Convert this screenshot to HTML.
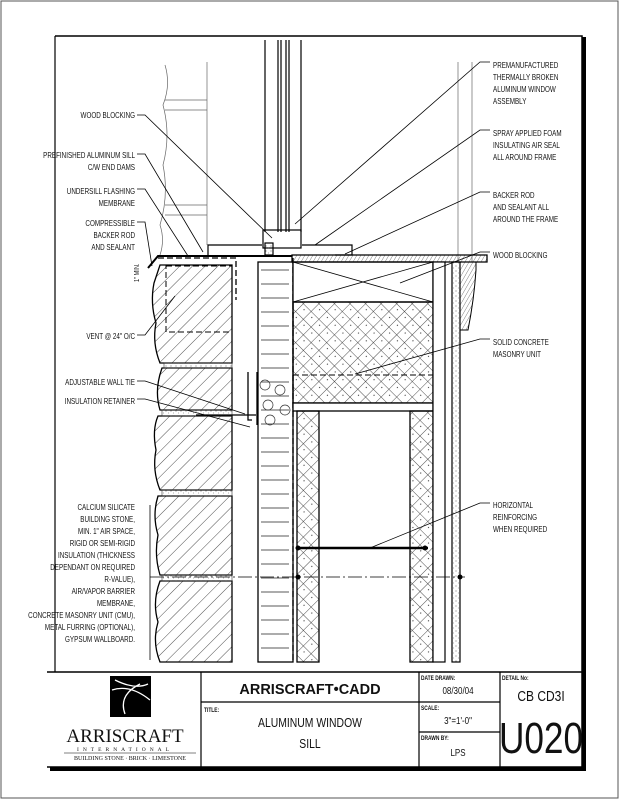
<!DOCTYPE html>
<html><head><meta charset="utf-8"><style>
html,body{margin:0;padding:0;background:#fff}
svg{display:block}
text{font-family:"Liberation Sans",sans-serif;font-size:8.5px;fill:#111}
</style></head><body>
<svg width="619" height="800" viewBox="0 0 619 800" xmlns="http://www.w3.org/2000/svg">
<defs>
<pattern id="diag" width="9" height="9" patternUnits="userSpaceOnUse" patternTransform="rotate(45)">
<line x1="0" y1="0" x2="0" y2="9" stroke="#222" stroke-width="0.8"/></pattern>
<pattern id="cross" width="11" height="11" patternUnits="userSpaceOnUse" patternTransform="rotate(45)">
<line x1="0" y1="0" x2="0" y2="11" stroke="#222" stroke-width="0.8"/><line x1="0" y1="0" x2="11" y2="0" stroke="#222" stroke-width="0.8"/>
<circle cx="5" cy="4" r="0.6" fill="#333"/></pattern>
<pattern id="stip" width="5" height="5" patternUnits="userSpaceOnUse">
<circle cx="1" cy="1" r="0.5" fill="#444"/><circle cx="3.5" cy="3" r="0.4" fill="#444"/></pattern>
<pattern id="ins" width="34" height="14" patternUnits="userSpaceOnUse" x="258" y="265">
<line x1="3" y1="5" x2="31" y2="5" stroke="#222" stroke-width="0.8"/></pattern>
<pattern id="wood" width="4" height="8" patternUnits="userSpaceOnUse" patternTransform="skewX(-30)">
<line x1="0" y1="0" x2="0" y2="8" stroke="#333" stroke-width="0.7"/></pattern>
</defs>
<rect x="1" y="1" width="617" height="797" fill="none" stroke="#555" stroke-width="1"/>
<path d="M55 36 H582 V767 H47" fill="none" stroke="#000" stroke-width="1.5"/>
<line x1="55" y1="36" x2="55" y2="672" stroke="#000" stroke-width="1.2"/>
<rect x="582" y="37" width="4" height="734" fill="#000"/>
<rect x="50" y="767" width="536" height="4" fill="#000"/>

<g stroke="#666" stroke-width="0.7" fill="none">
<line x1="207" y1="62" x2="207" y2="245"/>
<path d="M165 65 q6 20 -2 40 q8 30 0 60 q6 30 -3 60 q5 15 0 30"/>
<line x1="165" y1="100" x2="207" y2="100"/><line x1="165" y1="110" x2="207" y2="110"/>
<line x1="165" y1="205" x2="207" y2="205"/><line x1="165" y1="215" x2="207" y2="215"/>
<line x1="458" y1="62" x2="458" y2="262"/><line x1="472" y1="62" x2="472" y2="262"/>
</g>
<g stroke="#000" stroke-width="1.2" fill="none">
<line x1="265" y1="40" x2="265" y2="232"/><line x1="301" y1="40" x2="301" y2="232"/>
<line x1="278" y1="40" x2="278" y2="232"/><line x1="281" y1="40" x2="281" y2="232"/>
<line x1="286" y1="40" x2="286" y2="232"/><line x1="289" y1="40" x2="289" y2="232"/>
<rect x="263" y="230" width="38" height="18"/>
<path d="M208 255 V245 H262 M302 245 H352 V255 H335"/>
<rect x="265" y="243" width="8" height="12" fill="url(#stip)"/>
</g>
<path d="M148 268 L158 256 H292" fill="none" stroke="#000" stroke-width="2"/>
<path d="M158 258 H236 V300" fill="none" stroke="#000" stroke-width="1.3" stroke-dasharray="6 3"/>

<g stroke="#000" stroke-width="1.3">
<path d="M160 265 H232 V363 H160 q-8 -20 -4 -40 q-6 -20 -2 -40 z" fill="url(#diag)"/>
<path d="M162 368 H232 V410 H160 q-6 -20 2 -42 z" fill="url(#diag)"/>
<path d="M158 416 H232 V490 H160 q-8 -20 -4 -40 q-4 -20 2 -34 z" fill="url(#diag)"/>
<path d="M158 496 H232 V575 H160 q-6 -20 -2 -40 q-6 -20 0 -39 z" fill="url(#diag)"/>
<path d="M160 581 H232 V662 H160 q-8 -20 -2 -40 q-6 -20 2 -41 z" fill="url(#diag)"/>
</g>
<g fill="url(#stip)" stroke="#333" stroke-width="0.6">
<rect x="164" y="363" width="68" height="5"/><rect x="162" y="410" width="70" height="6"/>
<rect x="162" y="490" width="70" height="6"/><rect x="162" y="575" width="70" height="6"/>
</g>
<rect x="166" y="266" width="66" height="66" fill="none" stroke="#000" stroke-dasharray="6 3"/>

<rect x="258" y="262" width="35" height="400" fill="url(#ins)" stroke="#000" stroke-width="1.3"/>
<line x1="293" y1="258" x2="293" y2="662" stroke="#000" stroke-width="1.3" stroke-dasharray="6 3"/>
<g fill="none" stroke="#333" stroke-width="0.7">
<circle cx="265" cy="385" r="5"/><circle cx="280" cy="390" r="5"/><circle cx="268" cy="405" r="5"/><circle cx="285" cy="410" r="5"/><circle cx="270" cy="420" r="5"/>
</g>
<path d="M257 372 V425 M248 372 V420 H252" fill="none" stroke="#000" stroke-width="1.3"/>
<path d="M196 415 H256" stroke="#000" stroke-width="1.3"/>

<rect x="293" y="262" width="140" height="40" fill="#fff" stroke="#000" stroke-width="1.3"/>
<path d="M293 262 L433 302 M293 302 L433 262" stroke="#000" stroke-width="0.8"/>
<path d="M292 255 H487 V262 H292 z" fill="url(#wood)" stroke="#000" stroke-width="1.3"/>
<rect x="293" y="302" width="140" height="101" fill="url(#cross)" stroke="#000" stroke-width="1.3"/>
<line x1="293" y1="375" x2="433" y2="375" stroke="#000" stroke-dasharray="6 3"/>
<rect x="293" y="403" width="140" height="8" fill="#fff" stroke="#000" stroke-width="1.3"/>
<rect x="297" y="411" width="22" height="251" fill="url(#cross)" stroke="#000" stroke-width="1.3"/>
<rect x="410" y="411" width="23" height="251" fill="url(#cross)" stroke="#000" stroke-width="1.3"/>
<rect x="433" y="262" width="12" height="400" fill="#fff" stroke="#000" stroke-width="1.2"/>
<rect x="452" y="262" width="8" height="400" fill="url(#stip)" stroke="#000" stroke-width="1.2"/>
<path d="M460 262 H476 V270 Q474 300 468 330 H460z" fill="url(#wood)" stroke="#000"/>
<line x1="298" y1="548" x2="428" y2="548" stroke="#000" stroke-width="2.5"/>
<circle cx="298" cy="548" r="2.5"/><circle cx="425" cy="548" r="2.5"/>
<line x1="150" y1="577" x2="465" y2="577" stroke="#000" stroke-width="0.7" stroke-dasharray="14 3 2 3"/>
<circle cx="298" cy="577" r="2.5"/><circle cx="460" cy="577" r="2.5"/>

<g stroke="#000" stroke-width="0.8" fill="none">
<path d="M137 115 H145 L272 238"/>
<path d="M137 154 H145 L203 252"/>
<path d="M137 189 H145 L188 256"/>
<path d="M137 222 H145 L152 266"/>
<path d="M137 335 H145 L175 296"/>
<path d="M137 381 H145 L245 414"/>
<path d="M137 399 H145 L250 427"/>
<path d="M490 62 H480 L295 224"/>
<path d="M490 130 H480 L315 245"/>
<path d="M490 192 H480 L345 254"/>
<path d="M490 252 H480 L400 283"/>
<path d="M490 339 H480 L355 374"/>
<path d="M490 503 H480 L370 548"/>
<path d="M150 505 L150 660"/>
</g>

<g transform="translate(135 0) scale(0.74 1)" text-anchor="end">
<text x="0" y="118">WOOD BLOCKING</text>
<text x="0" y="158">PREFINISHED ALUMINUM SILL</text><text x="0" y="170">C/W END DAMS</text>
<text x="0" y="194">UNDERSILL FLASHING</text><text x="0" y="206">MEMBRANE</text>
<text x="0" y="226">COMPRESSIBLE</text><text x="0" y="238">BACKER ROD</text><text x="0" y="250">AND SEALANT</text>
<text x="0" y="339">VENT @ 24" O/C</text>
<text x="0" y="385">ADJUSTABLE WALL TIE</text>
<text x="0" y="404">INSULATION RETAINER</text>
<text x="0" y="510">CALCIUM SILICATE</text><text x="0" y="522">BUILDING STONE,</text>
<text x="0" y="534">MIN. 1" AIR SPACE,</text><text x="0" y="546">RIGID OR SEMI-RIGID</text>
<text x="0" y="558">INSULATION (THICKNESS</text><text x="0" y="570">DEPENDANT ON REQUIRED</text>
<text x="0" y="582">R-VALUE),</text><text x="0" y="594">AIR/VAPOR BARRIER</text>
<text x="0" y="606">MEMBRANE,</text><text x="0" y="618">CONCRETE MASONRY UNIT (CMU),</text>
<text x="0" y="630">METAL FURRING (OPTIONAL),</text><text x="0" y="642">GYPSUM WALLBOARD.</text>
</g>
<text x="0" y="0" transform="translate(139 282) rotate(-90) scale(0.8 1)" style="font-size:7px">1" MIN.</text>
<g transform="translate(493 0) scale(0.74 1)">
<text x="0" y="68">PREMANUFACTURED</text><text x="0" y="80">THERMALLY BROKEN</text><text x="0" y="92">ALUMINUM WINDOW</text><text x="0" y="104">ASSEMBLY</text>
<text x="0" y="136">SPRAY APPLIED FOAM</text><text x="0" y="148">INSULATING AIR SEAL</text><text x="0" y="160">ALL AROUND FRAME</text>
<text x="0" y="198">BACKER ROD</text><text x="0" y="210">AND SEALANT ALL</text><text x="0" y="222">AROUND THE FRAME</text>
<text x="0" y="258">WOOD BLOCKING</text>
<text x="0" y="345">SOLID CONCRETE</text><text x="0" y="357">MASONRY UNIT</text>
<text x="0" y="508">HORIZONTAL</text><text x="0" y="520">REINFORCING</text><text x="0" y="532">WHEN REQUIRED</text>
</g>

<g stroke="#000" stroke-width="1.2" fill="none">
<line x1="47" y1="672" x2="582" y2="672" stroke-width="1.5"/>
<line x1="201" y1="672" x2="201" y2="767"/>
<line x1="419" y1="672" x2="419" y2="767"/>
<line x1="500" y1="672" x2="500" y2="767"/>
<line x1="201" y1="702" x2="500" y2="702"/>
<line x1="419" y1="732" x2="500" y2="732"/>
</g>
<rect x="110" y="676" width="41" height="41" fill="#000"/>
<path d="M112 690 Q130 684 150 700 M115 680 Q135 690 148 684 M140 684 Q118 695 125 714" stroke="#fff" stroke-width="1.3" fill="none"/>
<text x="125" y="742" text-anchor="middle" style="font-family:'Liberation Serif',serif;font-size:19px">ARRISCRAFT</text>
<text x="125" y="751" text-anchor="middle" style="font-family:'Liberation Serif',serif;font-size:5.5px;letter-spacing:4px">INTERNATIONAL</text>
<line x1="64" y1="753" x2="196" y2="753" stroke="#000" stroke-width="0.5"/>
<text x="130" y="760" text-anchor="middle" style="font-family:'Liberation Serif',serif;font-size:6px">BUILDING STONE · BRICK · LIMESTONE</text>
<text x="310" y="694" text-anchor="middle" style="font-weight:bold;font-size:14.5px">ARRISCRAFT•CADD</text>
<g transform="translate(204 0) scale(0.75 1)"><text x="0" y="712" style="font-size:6.5px;font-weight:bold">TITLE:</text></g>
<g transform="translate(310 0) scale(0.8 1)" text-anchor="middle">
<text x="0" y="727" style="font-size:13px">ALUMINUM WINDOW</text>
<text x="0" y="748" style="font-size:13px">SILL</text></g>
<g transform="translate(421 0) scale(0.75 1)" style="font-weight:bold">
<text x="0" y="680" style="font-size:6.5px;font-weight:bold">DATE DRAWN:</text>
<text x="0" y="710" style="font-size:6.5px;font-weight:bold">SCALE:</text>
<text x="0" y="740" style="font-size:6.5px;font-weight:bold">DRAWN BY:</text></g>
<g transform="translate(458 0) scale(0.8 1)" text-anchor="middle">
<text x="0" y="694" style="font-size:10px">08/30/04</text>
<text x="0" y="724" style="font-size:10px">3"=1'-0"</text>
<text x="0" y="756" style="font-size:10px">LPS</text></g>
<g transform="translate(502 0) scale(0.75 1)"><text x="0" y="680" style="font-size:6.5px;font-weight:bold">DETAIL No:</text></g>
<g transform="translate(541 0) scale(0.8 1)" text-anchor="middle">
<text x="0" y="701" style="font-size:15px">CB CD3I</text>
<text x="0" y="753" style="font-size:44px">U020</text></g>
</svg>
</body></html>
